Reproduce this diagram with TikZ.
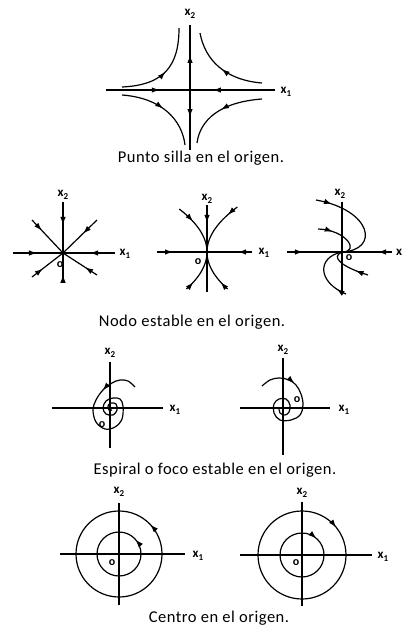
\documentclass[tikz,border=0pt]{standalone}
\usepackage{fontspec}
\setmainfont{Carlito}[LetterSpace=3]
\usepackage{tikz}
\usetikzlibrary{arrows.meta,decorations.markings}

\newcommand{\xsub}[1]{x\raisebox{-0.4ex}{\small #1}}

\begin{document}
\begin{tikzpicture}[x=1pt, y=1pt, >={Latex[length=8pt,width=5.5pt]},
    axis/.style={line width=1.2pt},
    traj/.style={line width=1.2pt},
    flowat/.style={postaction={decorate,decoration={markings,mark=at position #1 with {\arrow{>}}}}},
    backat/.style={postaction={decorate,decoration={markings,mark=at position #1 with {\arrowreversed{>}}}}},
    lab/.style={font=\fontsize{13}{13}\selectfont\bfseries, inner sep=0pt},
    orig/.style={font=\fontsize{12}{12}\selectfont\bfseries, inner sep=0pt},
    captxt/.style={font=\fontsize{16.5}{18}\selectfont, inner sep=0pt}]
    \useasboundingbox (0,0) rectangle (403,-633);

    % saddle point
    \begin{scope}[shift={(190,-90)}]
        \draw[axis, flowat=0.54] (0,0) -- (0,65);
        \draw[axis, flowat=0.45] (0,0) -- (0,-60);
        \draw[axis, flowat=0.64] (-84,0) -- (0,0);
        \draw[axis, flowat=0.73] (85,0) -- (0,0);
        \fill (0,0) circle (1.8pt);
        \draw[traj, flowat=0.5] (-68,3) .. controls (-25,5) and (-11,25) .. (-11,62);
        \draw[traj, flowat=0.5] (72,7) .. controls (35,10) and (15,30) .. (10,57);
        \draw[traj, flowat=0.5] (-68,-5) .. controls (-28,-8) and (-8,-30) .. (-5,-55);
        \draw[traj, flowat=0.5] (72,-9) .. controls (30,-12) and (10,-30) .. (7,-53);
        \node[lab] (sx2) at (0,76) {\xsub{2}};
        \node[lab] (sx1) at (96,-2) {\xsub{1}};
    \end{scope}
    \node[captxt] (capsilla) at (201,-158) {Punto silla en el origen.};

    % star node
    \begin{scope}[shift={(63,-253)}]
        \draw[axis, flowat=0.48] (-50,0) -- (0,0);
        \draw[axis, flowat=0.48] (52,0) -- (0,0);
        \draw[axis, flowat=0.45] (0,51) -- (0,0);
        \draw[axis, flowat=0.25] (0,-29) -- (0,0);
        \draw[traj, flowat=0.32] (-31,33) -- (0,0);
        \draw[traj, flowat=0.41] (34,33) -- (0,0);
        \draw[traj, flowat=0.35] (-31,-24) -- (0,0);
        \draw[traj, flowat=0.35] (34,-22) -- (0,0);
        \node[lab] (ax2) at (0,58) {\xsub{2}};
        \node[lab] (ax1) at (62,-1) {\xsub{1}};
        \node[orig] (ao) at (-3,-12) {o};
    \end{scope}

    % tangent node
    \begin{scope}[shift={(207,-252)}]
        \draw[axis, flowat=0.38] (0,47) -- (0,0);
        \draw[axis] (0,0) -- (0,-40);
        \draw[axis, flowat=0.32] (-50,0) -- (0,0);
        \draw[axis, flowat=0.31] (45,0) -- (0,0);
        \draw[traj, flowat=0.35] plot[domain=43:0, samples=30] ({-0.015*\x*\x},\x);
        \draw[traj, flowat=0.22] plot[domain=45:0, samples=30] ({0.015*\x*\x},\x);
        \draw[traj, flowat=0.22] plot[domain=-37:0, samples=30] ({-0.015*\x*\x},\x);
        \draw[traj, flowat=0.22] plot[domain=-37:0, samples=30] ({0.015*\x*\x},\x);
        \node[lab] (bx2) at (0,53) {\xsub{2}};
        \node[lab] (bx1) at (57,-1) {\xsub{1}};
        \node[orig] (bo) at (-9,-10) {o};
    \end{scope}

    % degenerate node
    \begin{scope}[shift={(342,-252)}]
        \draw[axis] (0,50) -- (0,-40);
        \draw[axis, flowat=0.29] (-55,0) -- (0,0);
        \draw[axis, flowat=0.28] (50,0) -- (0,0);
        \draw[traj, flowat=0.17] (-26,52) .. controls (30,42) and (38,2) .. (0,0);
        \draw[traj, flowat=0.3] (-24,23) .. controls (5,22) and (18,0) .. (0,0);
        \draw[traj, flowat=0.17] (4,-42) .. controls (-25,-30) and (-25,-5) .. (0,0);
        \draw[traj, flowat=0.3] (26,-23) .. controls (0,-15) and (-12,-5) .. (0,0);
        \node[lab] (cx2) at (-2,58) {\xsub{2}};
        \node[lab] (cx1) at (57,0) {x};
        \node[orig] (co) at (7,-6) {o};
    \end{scope}
    \node[captxt] (capnodo) at (192,-322) {Nodo estable en el origen.};

    % spiral, counterclockwise
    \begin{scope}[shift={(110,-408)}]
        \draw[axis] (0,46) -- (0,-40);
        \draw[axis] (-58,0) -- (53,0);
        \draw[traj, flowat=38pt] plot[smooth, tension=0.6] coordinates {(25,21) (18,27) (10,28) (2,25) (-7,18) (-14,8) (-17,-2) (-14,-14) (-5,-21) (5,-19) (12,-11) (13,2) (10,9) (3,10) (-4,7) (-7,0) (-4,-6) (3,-7) (7,-2) (6,4) (1,5) (-2,2) (-1,-2) (2,-2)};
        \node[lab] (dx2) at (0,55) {\xsub{2}};
        \node[lab] (dx1) at (65,-2) {\xsub{1}};
        \node[orig] (do) at (-8,-17) {o};
    \end{scope}

    % spiral, clockwise
    \begin{scope}[shift={(283,-408)}]
        \draw[axis] (0,50) -- (0,-47);
        \draw[axis] (-43,0) -- (47,0);
        \draw[traj, flowat=36pt] plot[smooth, tension=0.6] coordinates {(-21,22) (-13,28) (-4,30) (6,28) (13,23) (18,14) (20,3) (17,-7) (8,-12) (-3,-12) (-9,-5) (-9,4) (-4,9) (3,9) (7,3) (6,-4) (2,-7) (-3,-5) (-4,0)};
        \node[lab] (ex2) at (0,58) {\xsub{2}};
        \node[lab] (ex1) at (61,-2) {\xsub{1}};
        \node[orig] (eo) at (14,8) {o};
    \end{scope}
    \node[captxt] (capespiral) at (215,-470) {Espiral o foco estable en el origen.};

    % centre, counterclockwise
    \begin{scope}[shift={(119,-554)}]
        \draw[axis] (0,51) -- (0,-51);
        \draw[axis] (-59,0) -- (66,0);
        \draw[traj, flowat=0.12] (0,0) circle (43pt);
        \draw[traj, flowat=0.114] (0,0) circle (22pt);
        \node[lab] (fx2) at (0,62) {\xsub{2}};
        \node[lab] (fx1) at (79,-2) {\xsub{1}};
        \node[orig] (fo) at (-7,-9) {o};
    \end{scope}

    % centre, clockwise
    \begin{scope}[shift={(302,-555)}]
        \draw[axis] (0,53) -- (0,-51);
        \draw[axis] (-62,0) -- (70,0);
        \draw[traj, backat=0.108] (0,0) circle (44pt);
        \draw[traj, backat=0.136] (0,0) circle (22pt);
        \node[lab] (gx2) at (0,62) {\xsub{2}};
        \node[lab] (gx1) at (81,-2) {\xsub{1}};
        \node[orig] (go) at (-6,-8) {o};
    \end{scope}
    \node[captxt] (capcentro) at (219,-618) {Centro en el origen.};
\end{tikzpicture}
\end{document}
